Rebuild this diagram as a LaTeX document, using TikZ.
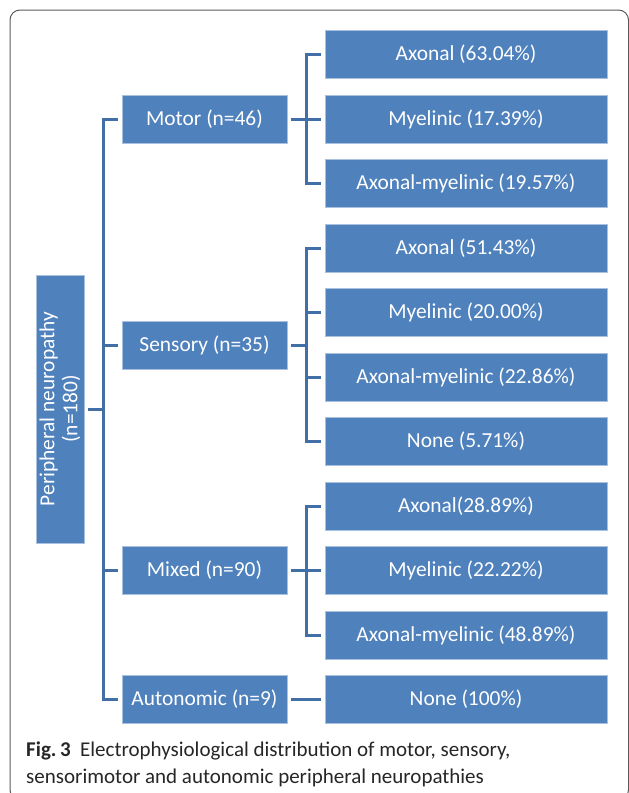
\documentclass[tikz,border=0pt]{standalone}
\usepackage{fontspec}
\setmainfont{Carlito}
\definecolor{boxblue}{HTML}{4F81BD}
\definecolor{boxedge}{HTML}{A9C1DF}
\definecolor{connblue}{HTML}{416FA6}
\definecolor{framegray}{HTML}{5A5A5A}
\begin{document}
\begin{tikzpicture}[x=1pt,y=-1pt,
  box/.style={fill=boxblue,draw=boxedge,line width=0.6pt,text=white,
    font=\fontsize{21.4}{24}\selectfont,inner sep=0pt,align=center},
  leaf/.style={box,minimum width=282pt,minimum height=48pt},
  mid/.style={box,minimum width=165pt,minimum height=48pt},
  conn/.style={draw=connblue,line width=3pt,shorten <=4pt,shorten >=4pt}]
\useasboundingbox (0,0) rectangle (629,793);
\draw[framegray,line width=1pt,rounded corners=10pt] (10,10) rectangle (628.5,800);

% root
\node[box,rotate=90,minimum width=268pt,minimum height=48pt,
  font=\fontsize{21.4}{23}\selectfont] (root) at (60,409)
  {Peripheral neuropathy\\(n=180)};

% middle level
\node[mid] (motor) at (204.5,119) {Motor (n=46)};
\node[mid] (sens) at (204.5,345) {Sensory (n=35)};
\node[mid] (mixed) at (204.5,570.5) {Mixed (n=90)};
\node[mid] (auto) at (204.5,699.5) {Autonomic (n=9)};

% leaves
\node[leaf] (m1) at (466,54) {Axonal (63.04\%)};
\node[leaf] (m2) at (466,119) {Myelinic (17.39\%)};
\node[leaf] (m3) at (466,183) {Axonal-myelinic (19.57\%)};
\node[leaf] (s1) at (466,248) {Axonal (51.43\%)};
\node[leaf] (s2) at (466,312.5) {Myelinic (20.00\%)};
\node[leaf] (s3) at (466,377) {Axonal-myelinic (22.86\%)};
\node[leaf] (s4) at (466,441.5) {None (5.71\%)};
\node[leaf] (x1) at (466,506) {Axonal(28.89\%)};
\node[leaf] (x2) at (466,570.5) {Myelinic (22.22\%)};
\node[leaf] (x3) at (466,635) {Axonal-myelinic (48.89\%)};
\node[leaf] (a1) at (466,699.5) {None (100\%)};

% bus coordinates
\coordinate (tk) at (103,409);
\coordinate (mb) at (306,119);
\coordinate (sb) at (306,345);
\coordinate (xb) at (306,570.5);

% trunk
\draw[conn] (motor.west) -| (tk) |- (auto.west);
\draw[conn,shorten >=0pt] (sens.west) -- (sens.west -| tk);
\draw[conn,shorten >=0pt] (mixed.west) -- (mixed.west -| tk);
\draw[conn,shorten >=0pt] (root.south) -- (root.south -| tk);

% motor branch
\draw[conn] (m1.west) -| (mb) |- (m3.west);
\draw[conn] (motor.east) -- (m2.west);
% sensory branch
\draw[conn] (s1.west) -| (sb) |- (s4.west);
\draw[conn,shorten >=0pt] (s2.west) -- (s2.west -| sb);
\draw[conn,shorten >=0pt] (s3.west) -- (s3.west -| sb);
\draw[conn,shorten >=0pt] (sens.east) -- (sens.east -| sb);
% mixed branch
\draw[conn] (x1.west) -| (xb) |- (x3.west);
\draw[conn] (mixed.east) -- (x2.west);
% autonomic
\draw[conn] (auto.east) -- (a1.west);

% caption
\node[anchor=base west,inner sep=0pt,font=\fontsize{21}{27}\selectfont,text=black!85,align=left] (cap) at (26,783)
  {\textbf{Fig.\,3}\hspace{0.45em}Electrophysiological distribution of motor, sensory,\\sensorimotor and autonomic peripheral neuropathies};
\end{tikzpicture}
\end{document}
